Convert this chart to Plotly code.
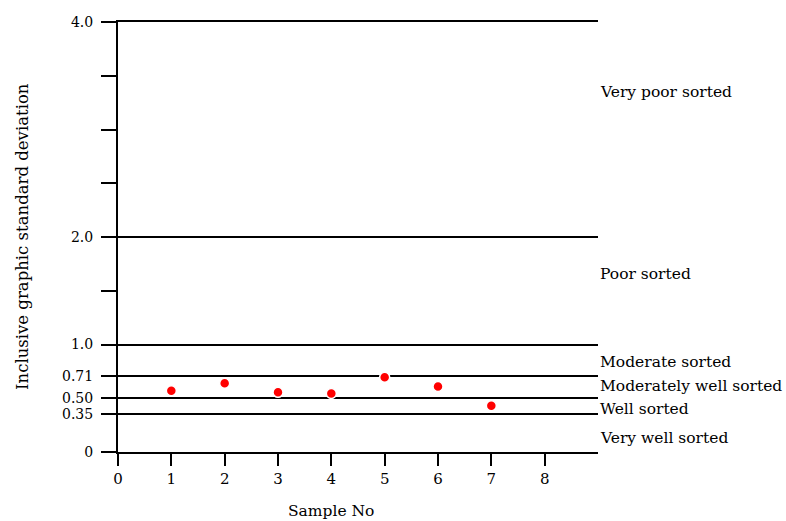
import plotly.graph_objects as go

samples = [1, 2, 3, 4, 5, 6, 7]
sorting = [0.57, 0.64, 0.555, 0.545, 0.695, 0.61, 0.43]

x_ticks = [0, 1, 2, 3, 4, 5, 6, 7, 8]
y_ticks = [0, 0.35, 0.50, 0.71, 1.0, 2.0, 4.0]
y_ticktext = ["0", "0.35", "0.50", "0.71", "1.0", "2.0", "4.0"]
y_minor = [1.5, 2.5, 3.0, 3.5]

zone_labels = ["Very poor sorted", "Poor sorted", "Moderate sorted",
               "Moderately well sorted", "Well sorted", "Very well sorted"]
zone_label_y = [3.35, 1.66, 0.84, 0.615, 0.40, 0.13]

FONT = "DejaVu Serif"

fig = go.Figure()
fig.add_trace(go.Scatter(
    x=samples, y=sorting, mode="markers",
    marker=dict(color="#ff0000", size=10, line=dict(color="white", width=1.5)),
    showlegend=False, hoverinfo="x+y",
))

for txt, yv in zip(zone_labels, zone_label_y):
    fig.add_annotation(text=txt, xref="paper", x=1.0, yref="y", y=yv,
                       xanchor="left", yanchor="middle", showarrow=False,
                       font=dict(family=FONT, size=15.5, color="black"))

fig.add_annotation(text="Inclusive graphic standard deviation", textangle=-90,
                   xref="paper", x=-0.2, xanchor="center",
                   yref="paper", y=0.5, yanchor="middle", showarrow=False,
                   font=dict(family=FONT, size=16.5, color="black"))
fig.add_annotation(text="Sample No", xref="x", x=4.0, xanchor="center",
                   yref="paper", y=-0.137, yanchor="middle", showarrow=False,
                   font=dict(family=FONT, size=15.5, color="black"))

fig.update_layout(
    width=786, height=521,
    margin=dict(l=118, r=188, t=22, b=69),
    plot_bgcolor="white", paper_bgcolor="white",
    font=dict(family=FONT, size=15, color="black"),
    xaxis=dict(range=[0, 9], tickvals=x_ticks, ticks="outside", ticklen=12,
               tickwidth=2, tickcolor="black", showline=True, linewidth=2,
               linecolor="black", mirror=True, showgrid=False, zeroline=False,
               tickfont=dict(family=FONT, size=15)),
    yaxis=dict(range=[0, 4], tickvals=y_ticks, ticktext=y_ticktext,
               ticks="outside", ticklen=15, tickwidth=2, tickcolor="black",
               showline=True, linewidth=2, linecolor="black",
               showgrid=True, gridcolor="black", gridwidth=2, zeroline=False,
               tickfont=dict(family=FONT, size=14), ticklabelstandoff=5,
               minor=dict(tickvals=y_minor, ticks="outside", ticklen=15,
                          tickwidth=2, tickcolor="black", showgrid=False)),
)

fig.write_html("out.html")
